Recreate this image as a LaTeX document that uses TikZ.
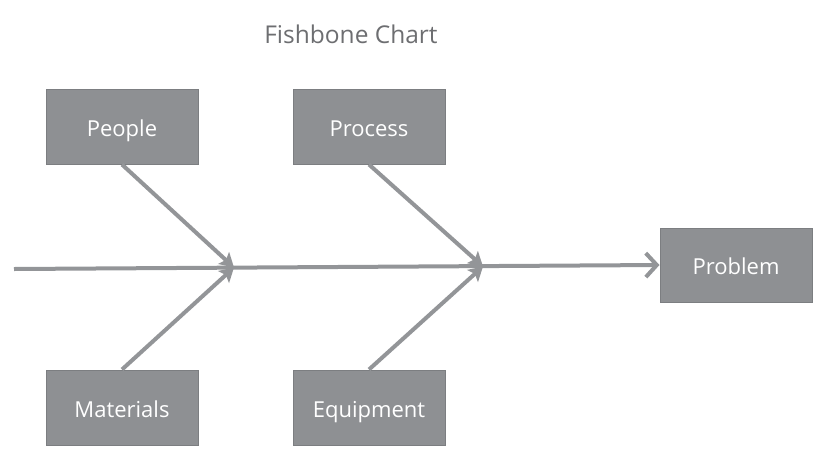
\documentclass[tikz,border=0pt]{standalone}
\usepackage{fontspec}
\setmainfont{Open Sans}
\usetikzlibrary{arrows.meta}
\definecolor{boxgray}{HTML}{8E9093}
\definecolor{boxedge}{HTML}{7C7E81}
\definecolor{linegray}{HTML}{939598}
\definecolor{titlegray}{HTML}{6D6E71}
\begin{document}
\begin{tikzpicture}[x=1pt,y=-1pt,
  cause/.style={draw=boxedge,line width=1pt,fill=boxgray,minimum width=152pt,minimum height=75pt,inner sep=0pt,text height=19pt,text depth=0pt,text=white,font=\fontsize{22}{26}\selectfont},
  bone/.style={draw=linegray,line width=4pt,-{Stealth[length=14pt,width=16pt,inset=3pt]}},
  spine/.style={draw=linegray,line width=4pt,-{Straight Barb[length=11pt,width=24pt,line width=4pt]}}]
\useasboundingbox (0,0) rectangle (831,459);
\node[text=titlegray,font=\fontsize{24.5}{28}\selectfont] (title) at (351,34) {Fishbone Chart};
\node[cause] (people) at (122,126.5) {People};
\node[cause] (process) at (369,126.5) {Process};
\node[cause] (materials) at (122,407.5) {Materials};
\node[cause] (equipment) at (369,407.5) {Equipment};
\node[cause,minimum height=74pt] (problem) at (736,265) {Problem};
\coordinate (tail) at (14,269);
\coordinate (j1) at (234,267.5);
\coordinate (j2) at (483,266.5);
\draw[spine] (tail) -- (problem.west);
\draw[bone] (people.south) -- (j1);
\draw[bone] (materials.north) -- (j1);
\draw[bone] (process.south) -- (j2);
\draw[bone] (equipment.north) -- (j2);
\end{tikzpicture}
\end{document}
